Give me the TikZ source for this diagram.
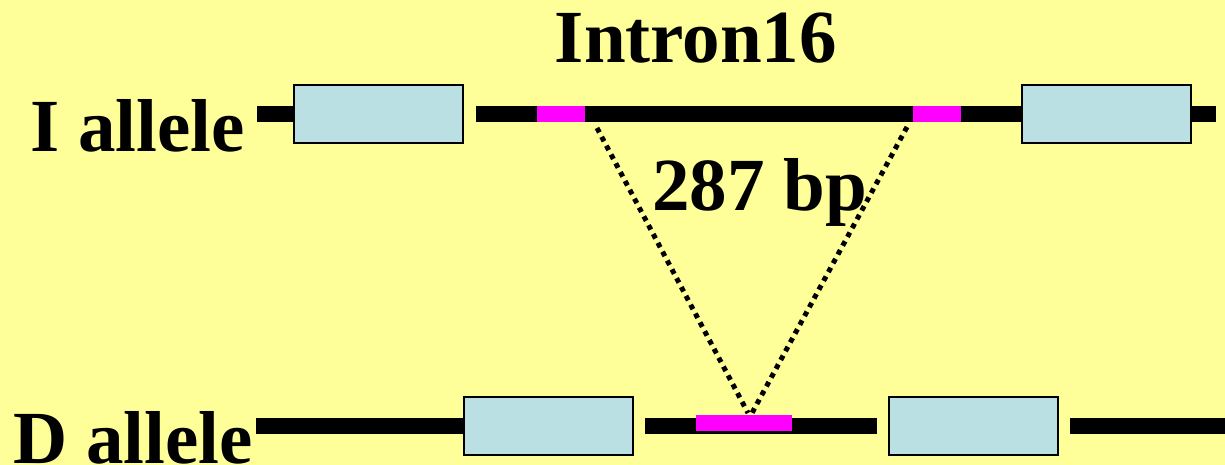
\documentclass[tikz,border=0pt]{standalone}
\usepackage{fontspec}
\setmainfont{Liberation Serif}
\definecolor{bgyellow}{HTML}{FFFF99}
\definecolor{exonblue}{HTML}{BBE0E3}
\definecolor{mag}{HTML}{FF00FF}
\begin{document}
\begin{tikzpicture}[x=1pt,y=-1pt,
  dna/.style={line width=16pt,black},
  site/.style={line width=16pt,mag},
  exon/.style={draw=black,line width=2pt,fill=exonblue,minimum width=169pt,minimum height=58pt,inner sep=0pt},
  lbl/.style={font=\bfseries\fontsize{75}{80}\selectfont,inner sep=0pt,anchor=base west},
  dots/.style={line width=5pt,dash pattern=on 5pt off 5pt}]
\fill[bgyellow] (0,0) rectangle (1225,465);
\useasboundingbox (0,0) rectangle (1225,465);
% I allele line
\coordinate (i1) at (257,114);
\coordinate (i2) at (300,114);
\coordinate (i3) at (476,114);
\coordinate (i4) at (1030,114);
\coordinate (i5) at (1185,114);
\coordinate (i6) at (1216,114);
\draw[dna] (i1) -- (i2);
\draw[dna] (i3) -- (i4);
\draw[dna] (i5) -- (i6);
\coordinate (m1a) at (537,114);
\coordinate (m1b) at (585,114);
\coordinate (m2a) at (913,114);
\coordinate (m2b) at (961,114);
\draw[site] (m1a) -- (m1b);
\draw[site] (m2a) -- (m2b);
\node[exon] (ie1) at (378.5,114) {};
\node[exon] (ie2) at (1106.5,114) {};
% D allele line
\coordinate (d1) at (256,425.5);
\coordinate (d2) at (470,425.5);
\coordinate (d3) at (645,425.5);
\coordinate (d4) at (877,425.5);
\coordinate (d5) at (1070,425.5);
\coordinate (d6) at (1225,425.5);
\draw[dna] (d1) -- (d2);
\draw[dna] (d3) -- (d4);
\draw[dna] (d5) -- (d6);
\node[exon] (de1) at (548.5,425.5) {};
\node[exon] (de2) at (973.5,425.5) {};
\coordinate (dma) at (696,423);
\coordinate (dmb) at (792,423);
\draw[site] (dma) -- (dmb);
% deletion lines
\coordinate (dl1) at (597,128);
\coordinate (dl2) at (748,413);
\coordinate (dr1) at (907,127);
\coordinate (dr2) at (752,413);
\draw[dots] (dl1) -- (dl2);
\draw[dots] (dr1) -- (dr2);
% labels
\node[lbl,anchor=base] (title) at (696,63) {Intron16};
\node[lbl] (ilab) at (30,152) {I allele};
\node[lbl] (dlab) at (13,463) {D allele};
\node[lbl] (bp) at (652,210) {287 bp};
\end{tikzpicture}
\end{document}
